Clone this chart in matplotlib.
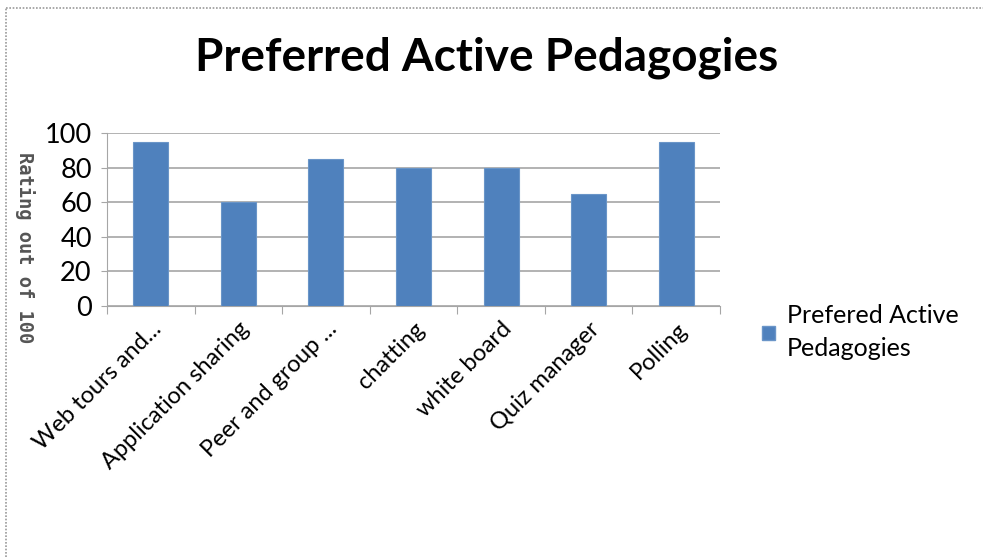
import matplotlib.pyplot as plt
from matplotlib.lines import Line2D
from matplotlib.patches import Patch

categories = ["Web tours and...", "Application sharing", "Peer and group ...",
              "chatting", "white board", "Quiz manager", "Polling"]
ratings = [95, 60, 85, 80, 80, 65, 95]
series_name = "Prefered Active\nPedagogies"

blue = "#4F81BD"
grid_grey = "#A6A6A6"

fig = plt.figure(figsize=(9.83, 5.57), dpi=100)
ax = fig.add_axes([107 / 983, 1 - 306 / 557, (720 - 107) / 983, (306 - 133) / 557])

x = range(len(categories))
ax.bar(x, ratings, width=0.4, color=blue, edgecolor="#6A95C8", linewidth=0.8, zorder=3)

ax.set_xlim(-0.5, len(categories) - 0.5)
ax.set_ylim(0, 100)
ax.set_yticks([0, 20, 40, 60, 80, 100])
ax.tick_params(axis="y", labelsize=19.5, length=4, color=grid_grey, pad=7)
ax.yaxis.grid(True, color=grid_grey, linewidth=1.2, zorder=0)

# category boundaries get the tick marks, labels sit under the bars
ax.set_xticks([i - 0.5 for i in range(len(categories) + 1)])
ax.set_xticklabels([])
ax.set_xticks(list(x), minor=True)
ax.set_xticklabels(categories, minor=True, rotation=45, ha="right",
                   rotation_mode="anchor", fontsize=17, family="Lato")
ax.tick_params(axis="x", which="major", length=6, color=grid_grey)
ax.tick_params(axis="x", which="minor", length=0, pad=9)

for side in ["top", "right"]:
    ax.spines[side].set_visible(False)
ax.spines["left"].set_color(grid_grey)
ax.spines["bottom"].set_color(grid_grey)
for lbl in ax.get_yticklabels():
    lbl.set_family("Lato")

fig.text(487 / 983, 1 - 58 / 557, "Preferred Active Pedagogies", ha="center", va="center",
         fontsize=33, fontweight="bold", family="Lato")
fig.text(25 / 983, 1 - 248 / 557, "Rating out of 100", rotation=270, ha="center", va="center",
         fontsize=13.5, fontweight="bold", family="DejaVu Sans Mono", color="#555555")

handle = Patch(facecolor=blue, edgecolor="#6A95C8")
leg = fig.legend([handle], [series_name], loc="upper left", bbox_to_anchor=(752 / 983, 1 - 294 / 557),
                 frameon=False, prop={"family": "Lato", "size": 18}, handlelength=0.5,
                 handleheight=0.5, handletextpad=0.5, borderaxespad=0)
for t in leg.get_texts():
    t.set_linespacing(1.55)

# chart frame along the top and left edges
fig.add_artist(Line2D([6 / 983, 1], [1 - 8 / 557, 1 - 8 / 557], transform=fig.transFigure,
                      color="#999999", linewidth=1.2, linestyle=(0, (1, 1))))
fig.add_artist(Line2D([6 / 983, 6 / 983], [0, 1 - 8 / 557], transform=fig.transFigure,
                      color="#999999", linewidth=1.2, linestyle=(0, (1, 1))))

fig.savefig("out.png", dpi=100)
